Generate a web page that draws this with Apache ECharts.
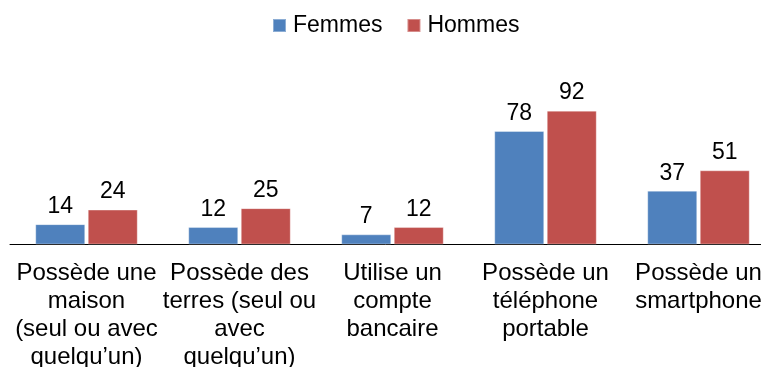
<!DOCTYPE html>
<html>
<head>
<meta charset="utf-8">
<script src="https://cdn.jsdelivr.net/npm/echarts@6/dist/echarts.min.js"></script>
<style>
  html, body { margin: 0; padding: 0; background: #fff; }
  #chart { width: 761px; height: 367px; }
</style>
</head>
<body>
<div id="chart"></div>
<script>
// Category labels (line breaks as displayed under the axis)
const categories = [
  'Possède une\nmaison\n(seul ou avec\nquelqu\u2019un)',
  'Possède des\nterres (seul ou\navec\nquelqu\u2019un)',
  'Utilise un\ncompte\nbancaire',
  'Possède un\ntéléphone\nportable',
  'Possède un\nsmartphone'
];
const seriesNames = ['Femmes', 'Hommes'];
const femmes = [14, 12, 7, 78, 37];
const hommes = [24, 25, 12, 92, 51];

const FONT = '"Liberation Sans", Arial, sans-serif';

const chart = echarts.init(document.getElementById('chart'), null, { renderer: 'canvas' });

const labelStyle = {
  show: true,
  position: 'top',
  distance: 6,
  color: '#000',
  fontFamily: FONT,
  fontSize: 23
};

chart.setOption({
  animation: false,
  textStyle: { fontFamily: FONT },
  legend: {
    top: 9,
    left: 267,
    itemWidth: 13,
    itemHeight: 13,
    itemGap: 24,
    icon: 'rect',
    textStyle: { fontFamily: FONT, fontSize: 23, color: '#000', padding: [0, 0, 0, 2] },
    data: seriesNames
  },
  // The plot runs slightly past the right edge of the canvas
  grid: {
    left: 10,
    width: 765,
    top: 99,
    bottom: 122.5,
    containLabel: false,
    outerBoundsMode: 'none'
  },
  xAxis: {
    type: 'category',
    data: categories,
    axisLine: { lineStyle: { color: '#000', width: 1 } },
    axisTick: { show: false },
    axisLabel: {
      interval: 0,
      margin: 15,
      color: '#000',
      fontFamily: FONT,
      fontSize: 24,
      lineHeight: 28
    }
  },
  yAxis: {
    type: 'value',
    min: 0,
    max: 100,
    show: false,
    splitLine: { show: false }
  },
  series: [
    {
      name: seriesNames[0],
      type: 'bar',
      data: femmes,
      barGap: '5%',
      barCategoryGap: '33%',
      itemStyle: { color: '#4F81BD', borderColor: 'rgba(255,255,255,0.35)', borderWidth: 1 },
      label: labelStyle
    },
    {
      name: seriesNames[1],
      type: 'bar',
      data: hommes,
      barGap: '5%',
      barCategoryGap: '33%',
      itemStyle: { color: '#C0504D', borderColor: 'rgba(255,255,255,0.35)', borderWidth: 1 },
      label: labelStyle
    }
  ]
});
</script>
</body>
</html>
